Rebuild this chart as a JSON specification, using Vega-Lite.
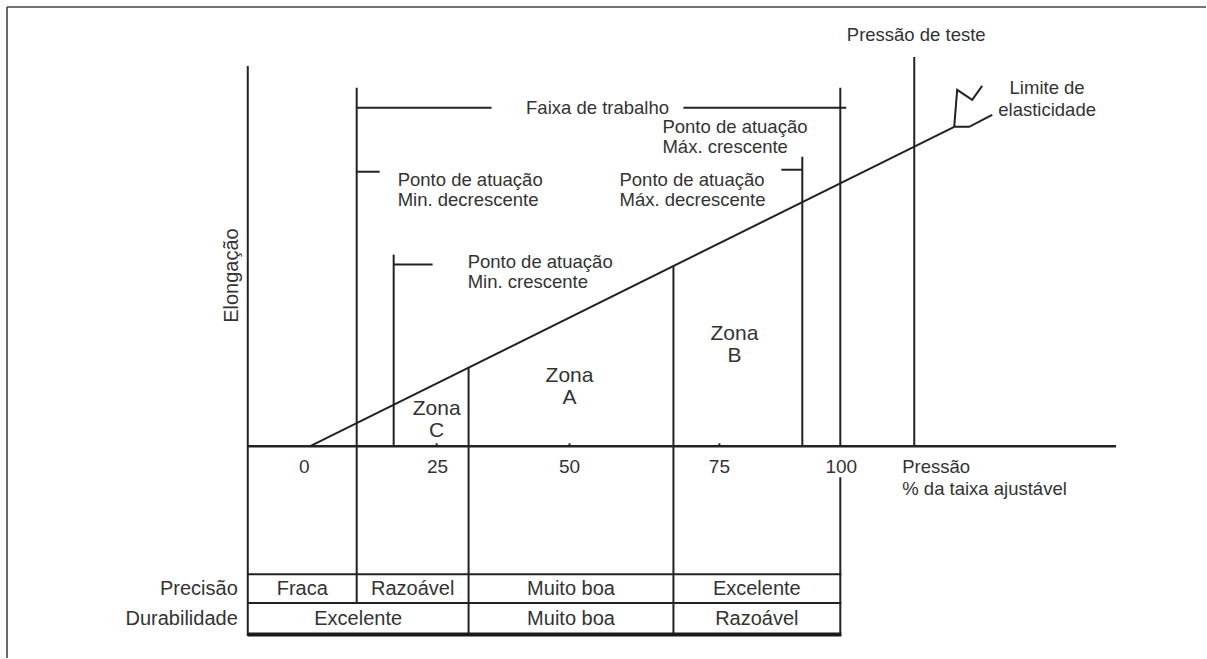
{
  "$schema": "https://vega.github.io/schema/vega-lite/v6.json",
  "width": 1207,
  "height": 659,
  "autosize": {"type": "fit", "contains": "padding"},
  "padding": 0,
  "background": "white",
  "config": {"view": {"stroke": null}, "text": {"font": "Liberation Sans", "color": "#333", "baseline": "middle"}},
  "datasets": {
    "frame": [
      {"x": -57.06, "y": 440, "x2": 168.93, "y2": 440},
      {"x": -57.06, "y": 440, "x2": -57.06, "y2": -212}
    ],
    "lines": [
      {"x": -11.68, "y": 381, "x2": -11.68, "y2": -190},
      {"x": 8.85, "y": 359, "x2": 8.85, "y2": -157},
      {"x": 8.85, "y": 339, "x2": 34.27, "y2": 339},
      {"x": 70.43, "y": 339, "x2": 101.13, "y2": 339},
      {"x": 100, "y": 359, "x2": 100, "y2": 0},
      {"x": 100, "y": -31, "x2": 100, "y2": -190},
      {"x": 8.85, "y": 275, "x2": 13.18, "y2": 275},
      {"x": 113.94, "y": 390, "x2": 113.94, "y2": 0},
      {"x": 92.84, "y": 290, "x2": 92.84, "y2": 0},
      {"x": 88.89, "y": 277, "x2": 92.84, "y2": 277},
      {"x": 15.82, "y": 192, "x2": 15.82, "y2": 0},
      {"x": 15.82, "y": 182, "x2": 23.16, "y2": 182},
      {"x": 29.94, "y": 79, "x2": 29.94, "y2": -190},
      {"x": 68.55, "y": 180.5, "x2": 68.55, "y2": -190},
      {"x": -11.68, "y": -128, "x2": 100.2, "y2": -128},
      {"x": -11.68, "y": -157, "x2": 100.2, "y2": -157},
      {"x": 23.92, "y": 0, "x2": 23.92, "y2": 3},
      {"x": 48.96, "y": 0, "x2": 48.96, "y2": 3},
      {"x": 77.21, "y": 0, "x2": 77.21, "y2": 3}
    ],
    "axisline": [
      {"x": -11.68, "y": 0, "x2": 151.98, "y2": 0}
    ],
    "bottom": [
      {"x": -11.68, "y": -188.5, "x2": 100.2, "y2": -188.5}
    ],
    "curve": [
      {"g": "d", "i": 0, "x": 0, "y": 0},
      {"g": "d", "i": 1, "x": 121.47, "y": 320},
      {"g": "z", "i": 0, "x": 121.47, "y": 320},
      {"g": "z", "i": 1, "x": 122.03, "y": 357},
      {"g": "z", "i": 2, "x": 124.86, "y": 347},
      {"g": "z", "i": 3, "x": 126.74, "y": 361},
      {"g": "e", "i": 0, "x": 121.47, "y": 320},
      {"g": "e", "i": 1, "x": 124.29, "y": 320},
      {"g": "e", "i": 2, "x": 128.63, "y": 332}
    ],
    "annLeft": [
      {"x": 16.57, "y": 267, "text": "Ponto de atuação"},
      {"x": 16.57, "y": 247, "text": "Min. decrescente"},
      {"x": 66.48, "y": 320, "text": "Ponto de atuação"},
      {"x": 66.48, "y": 300, "text": "Máx. crescente"},
      {"x": 58.38, "y": 267, "text": "Ponto de atuação"},
      {"x": 58.38, "y": 247, "text": "Máx. decrescente"},
      {"x": 29.76, "y": 185, "text": "Ponto de atuação"},
      {"x": 29.76, "y": 165, "text": "Min. crescente"},
      {"x": 111.68, "y": -21, "text": "Pressão"},
      {"x": 111.68, "y": -43, "text": "% da taixa ajustável"}
    ],
    "annCenter": [
      {"x": 54.24, "y": 339, "text": "Faixa de trabalho"},
      {"x": 114.31, "y": 412, "text": "Pressão de teste"},
      {"x": 138.98, "y": 359, "text": "Limite de"},
      {"x": 138.98, "y": 337, "text": "elasticidade"}
    ],
    "ticks": [
      {"x": -1.04, "y": -21, "text": "0"},
      {"x": 24.1, "y": -21, "text": "25"},
      {"x": 48.96, "y": -21, "text": "50"},
      {"x": 77.21, "y": -21, "text": "75"},
      {"x": 100.19, "y": -21, "text": "100"}
    ],
    "zones": [
      {"x": 23.92, "y": 37, "text": "Zona"},
      {"x": 23.92, "y": 15, "text": "C"},
      {"x": 48.96, "y": 70, "text": "Zona"},
      {"x": 48.96, "y": 48, "text": "A"},
      {"x": 80.04, "y": 112, "text": "Zona"},
      {"x": 80.04, "y": 90, "text": "B"}
    ],
    "table": [
      {"x": -1.41, "y": -143, "text": "Fraca"},
      {"x": 19.4, "y": -143, "text": "Razoável"},
      {"x": 49.25, "y": -143, "text": "Muito boa"},
      {"x": 84.27, "y": -143, "text": "Excelente"},
      {"x": 9.13, "y": -173, "text": "Excelente"},
      {"x": 49.25, "y": -173, "text": "Muito boa"},
      {"x": 84.27, "y": -173, "text": "Razoável"}
    ],
    "rowLabels": [
      {"x": -13.56, "y": -143, "text": "Precisão"},
      {"x": -13.56, "y": -173, "text": "Durabilidade"}
    ],
    "yTitle": [
      {"x": -14.69, "y": 171, "text": "Elongação"}
    ]
  },
  "encoding": {
    "x": {"field": "x", "type": "quantitative", "scale": {"domain": [-58.38, 168.93], "nice": false, "zero": false}, "axis": null},
    "y": {"field": "y", "type": "quantitative", "scale": {"domain": [-212, 447], "nice": false, "zero": false}, "axis": null}
  },
  "layer": [
    {"data": {"name": "frame"}, "mark": {"type": "rule", "color": "#444", "strokeWidth": 1.6},
     "encoding": {"x2": {"field": "x2"}, "y2": {"field": "y2"}}},
    {"data": {"name": "lines"}, "mark": {"type": "rule", "color": "#222", "strokeWidth": 2},
     "encoding": {"x2": {"field": "x2"}, "y2": {"field": "y2"}}},
    {"data": {"name": "axisline"}, "mark": {"type": "rule", "color": "#222", "strokeWidth": 2.5},
     "encoding": {"x2": {"field": "x2"}, "y2": {"field": "y2"}}},
    {"data": {"name": "bottom"}, "mark": {"type": "rule", "color": "#1a1a1a", "strokeWidth": 4},
     "encoding": {"x2": {"field": "x2"}, "y2": {"field": "y2"}}},
    {"data": {"name": "curve"}, "mark": {"type": "line", "color": "#222", "strokeWidth": 2},
     "encoding": {"detail": {"field": "g"}, "order": {"field": "i", "type": "quantitative"}}},
    {"data": {"name": "annLeft"}, "mark": {"type": "text", "align": "left", "fontSize": 18.5},
     "encoding": {"text": {"field": "text"}}},
    {"data": {"name": "annCenter"}, "mark": {"type": "text", "align": "center", "fontSize": 18.5},
     "encoding": {"text": {"field": "text"}}},
    {"data": {"name": "ticks"}, "mark": {"type": "text", "align": "center", "fontSize": 19},
     "encoding": {"text": {"field": "text"}}},
    {"data": {"name": "zones"}, "mark": {"type": "text", "align": "center", "fontSize": 21},
     "encoding": {"text": {"field": "text"}}},
    {"data": {"name": "table"}, "mark": {"type": "text", "align": "center", "fontSize": 20},
     "encoding": {"text": {"field": "text"}}},
    {"data": {"name": "rowLabels"}, "mark": {"type": "text", "align": "right", "fontSize": 20},
     "encoding": {"text": {"field": "text"}}},
    {"data": {"name": "yTitle"}, "mark": {"type": "text", "align": "center", "fontSize": 20, "angle": 270},
     "encoding": {"text": {"field": "text"}}}
  ]
}
